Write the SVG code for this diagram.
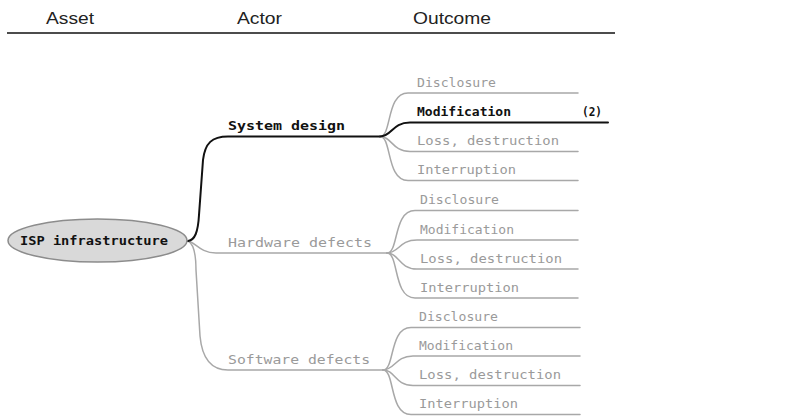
<svg xmlns="http://www.w3.org/2000/svg" width="798" height="418" viewBox="0 0 798 418">
  <style>
    .hdr { font-family: "Liberation Sans", Arial, sans-serif; font-size: 16px; fill: #222; }
    .px { font-family: "DejaVu Sans Mono", monospace; font-size: 12px; }
    .dim { fill: #9a9a9a; }
    .on { fill: #111; font-weight: bold; }
    .ln { fill: none; stroke: #a8a8a8; stroke-width: 1.5; stroke-linecap: round; }
    .lnOn { fill: none; stroke: #111; stroke-width: 2; stroke-linecap: round; }
  </style>
  <rect width="798" height="418" fill="#ffffff"/>

  <!-- column headers -->
  <g id="header">
    <text class="hdr" x="46" y="24" textLength="48" lengthAdjust="spacingAndGlyphs">Asset</text>
    <text class="hdr" x="237" y="24" textLength="45" lengthAdjust="spacingAndGlyphs">Actor</text>
    <text class="hdr" x="413" y="24" textLength="78" lengthAdjust="spacingAndGlyphs">Outcome</text>
    <line x1="7" y1="33" x2="615" y2="33" stroke="#111" stroke-width="1.6"/>
  </g>

  <!-- connectors -->
  <g id="connectors">
    <!-- root to actors -->
    <path class="ln" d="M188,241 C195,242 200,253 216,253 L387,253"/>
    <path class="ln" d="M188,241 C194,244 196,255 196,270 L200,336 C202,358 211,370 228,370 L383,370"/>
    <path class="lnOn" d="M188,241 C195,240 198,232 199,215 L203,160 C205,143 212,136.5 228,136.5 L380,136.5"/>

    <!-- System design outcomes -->
    <path class="ln" d="M380,136.5 C392,136.5 386,93 408,93 L578,93"/>
    <path class="ln" d="M380,136.5 C392,136.5 392,151.5 410,151.5 L578,151.5"/>
    <path class="ln" d="M380,136.5 C392,136.5 386,180.5 408,180.5 L578,180.5"/>
    <path class="lnOn" d="M380,136.5 C392,136.5 392,122.5 410,122.5 L608,122.5"/>

    <!-- Hardware defects outcomes -->
    <path class="ln" d="M387,253 C399,253 393,210.5 415,210.5 L578,210.5"/>
    <path class="ln" d="M387,253 C399,253 399,240 417,240 L578,240"/>
    <path class="ln" d="M387,253 C399,253 399,269 417,269 L578,269"/>
    <path class="ln" d="M387,253 C399,253 393,298 415,298 L578,298"/>

    <!-- Software defects outcomes -->
    <path class="ln" d="M383,370 C395,370 389,327.5 411,327.5 L580,327.5"/>
    <path class="ln" d="M383,370 C395,370 395,356 413,356 L580,356"/>
    <path class="ln" d="M383,370 C395,370 395,385.5 413,385.5 L580,385.5"/>
    <path class="ln" d="M383,370 C395,370 389,414.5 411,414.5 L580,414.5"/>
  </g>

  <!-- asset -->
  <g id="isp-infrastructure">
    <ellipse cx="97.5" cy="240.5" rx="89.5" ry="21.5" fill="#d9d9d9" stroke="#8c8c8c" stroke-width="1.5"/>
    <text class="px on" x="20" y="245" textLength="148" lengthAdjust="spacingAndGlyphs">ISP infrastructure</text>
  </g>

  <!-- actors -->
  <g id="system-design">
    <text class="px on" x="228" y="130" textLength="117" lengthAdjust="spacingAndGlyphs">System design</text>
  </g>
  <g id="hardware-defects">
    <text class="px dim" x="228" y="246.5" textLength="144" lengthAdjust="spacingAndGlyphs">Hardware defects</text>
  </g>
  <g id="software-defects">
    <text class="px dim" x="228" y="363.5" textLength="142" lengthAdjust="spacingAndGlyphs">Software defects</text>
  </g>

  <!-- outcomes: System design -->
  <g id="sd-disclosure"><text class="px dim" x="417" y="86.5" textLength="79" lengthAdjust="spacingAndGlyphs">Disclosure</text></g>
  <g id="sd-modification">
    <text class="px on" x="417" y="116" textLength="94" lengthAdjust="spacingAndGlyphs">Modification</text>
    <text class="px on" x="582" y="116" textLength="20" lengthAdjust="spacingAndGlyphs">(2)</text>
  </g>
  <g id="sd-loss"><text class="px dim" x="417" y="145" textLength="142" lengthAdjust="spacingAndGlyphs">Loss, destruction</text></g>
  <g id="sd-interruption"><text class="px dim" x="417" y="174" textLength="99" lengthAdjust="spacingAndGlyphs">Interruption</text></g>

  <!-- outcomes: Hardware defects -->
  <g id="hw-disclosure"><text class="px dim" x="420" y="204" textLength="79" lengthAdjust="spacingAndGlyphs">Disclosure</text></g>
  <g id="hw-modification"><text class="px dim" x="420" y="233.5" textLength="94" lengthAdjust="spacingAndGlyphs">Modification</text></g>
  <g id="hw-loss"><text class="px dim" x="420" y="262.5" textLength="142" lengthAdjust="spacingAndGlyphs">Loss, destruction</text></g>
  <g id="hw-interruption"><text class="px dim" x="420" y="291.5" textLength="99" lengthAdjust="spacingAndGlyphs">Interruption</text></g>

  <!-- outcomes: Software defects -->
  <g id="sw-disclosure"><text class="px dim" x="419" y="321" textLength="79" lengthAdjust="spacingAndGlyphs">Disclosure</text></g>
  <g id="sw-modification"><text class="px dim" x="419" y="349.5" textLength="94" lengthAdjust="spacingAndGlyphs">Modification</text></g>
  <g id="sw-loss"><text class="px dim" x="419" y="379" textLength="142" lengthAdjust="spacingAndGlyphs">Loss, destruction</text></g>
  <g id="sw-interruption"><text class="px dim" x="419" y="408" textLength="99" lengthAdjust="spacingAndGlyphs">Interruption</text></g>
</svg>
